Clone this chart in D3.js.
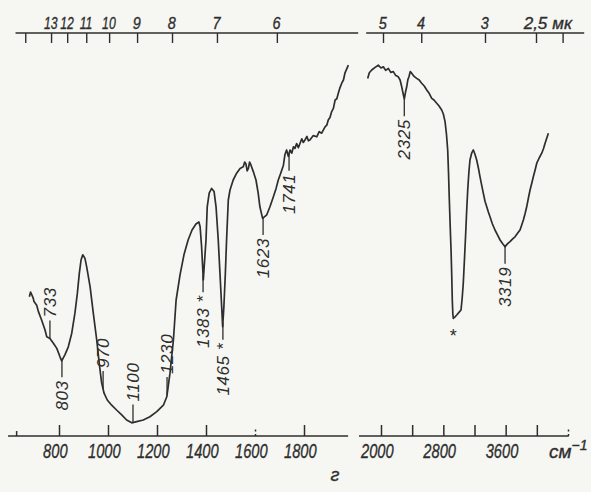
<!DOCTYPE html>
<html>
<head>
<meta charset="utf-8">
<script src="https://cdn.jsdelivr.net/npm/d3@7"></script>
<style>
  html, body { margin: 0; padding: 0; background: #f6f6f2; }
  svg { display: block; }
  .lab { font-family: "Liberation Sans", "DejaVu Sans", sans-serif; font-style: italic; fill: #2e2e2e; stroke: #2e2e2e; stroke-width: 0.35px; }
  .peak { font-family: "Liberation Sans", "DejaVu Sans", sans-serif; font-style: italic; fill: #2e2e2e; }
</style>
</head>
<body>
<div id="chart"></div>
<script>
// IR spectrum, panel "г": transmittance (arbitrary %) vs wavenumber (cm-1)
const leftSpectrum = [
  [679,33.3],[684,34.5],[689,33.8],[695,32.9],[698,32.1],[709,31.2],[716,29.6],[729,27.5],[743,25],[750,23.3],
  [763,22.9],[777,21.7],[791,20.4],[804,18.3],[811,17.3],[824,18.8],[838,20.8],[852,24.2],[865,29.2],[875,34.2],
  [883,39.2],[890,42.5],[897,43.8],[906,42.9],[913,40.8],[927,35.8],[940,29.2],[954,22.5],[964,16.8],[974,11.8],
  [984,9.2],[997,7.5],[1015,6.2],[1035,5],[1056,3.8],[1076,2.5],[1097,1.8],[1117,2.1],[1144,2.5],[1171,3.3],
  [1199,4.6],[1226,6.2],[1240,8.3],[1253,14.2],[1267,22.5],[1278,32.5],[1294,38.8],[1310,43.8],[1327,47.5],[1343,50],
  [1359,51.5],[1371,52],[1376,50.8],[1382,45.8],[1389,37.5],[1400,47.5],[1405,55.8],[1413,59.2],[1423,60.4],[1433,59.6],
  [1441,55.8],[1450,47.5],[1457,39.2],[1464,30.8],[1468,25.8],[1473,30.8],[1479,39.2],[1484,47.5],[1491,57.5],[1498,60],
  [1511,62.5],[1525,64.2],[1539,65.4],[1552,65.8],[1558,67],[1563,66.5],[1568,64.8],[1573,65.4],[1578,67],[1582,66.5],
  [1593,64.6],[1604,62.5],[1613,59.2],[1620,55.8],[1631,52.9],[1648,53.8],[1661,55.8],[1675,58.3],[1686,60.4],[1695,62.5],
  [1705,64.2],[1716,66.2],[1722,68.8],[1729,70],[1736,68.4],[1743,70],[1750,69.2],[1757,70.8],[1763,70.4],[1770,71.6],
  [1777,70.6],[1784,71.7],[1791,72.8],[1797,71.9],[1804,72.5],[1812,73.4],[1818,72.3],[1824,72.5],[1838,73.6],[1852,73.3],
  [1862,74.6],[1872,74.2],[1886,75.8],[1893,76.2],[1899,77.5],[1906,78.1],[1913,79.6],[1920,80.4],[1927,82.5],[1934,82.8],
  [1940,84.2],[1947,85.6],[1954,86.7],[1961,87.5],[1967,89.2],[1981,91.2]
];

const rightSpectrum = [
  [1829,87.9],[1850,89.3],[1881,90],[1920,90.6],[1965,91.2],[2000,90.5],[2030,90.8],[2060,89.9],[2094,90.4],[2125,89.4],
  [2158,89.6],[2190,88.6],[2222,88.3],[2245,87.5],[2266,85.8],[2285,84],[2299,82.7],[2315,84.5],[2330,85.8],[2345,87.6],
  [2359,88.3],[2375,89.6],[2394,89.2],[2425,88.4],[2458,87.9],[2490,87.5],[2522,86.7],[2555,86],[2587,85],[2620,84.1],
  [2651,82.9],[2680,82.5],[2715,81.7],[2745,81],[2779,80],[2800,79],[2822,77.1],[2840,74],[2856,70],[2867,64],
  [2877,57.5],[2888,51],[2899,45],[2908,38.5],[2915,32.5],[2922,29],[2928,27.9],[2950,28.3],[2972,28.75],[3000,29.4],
  [3027,30],[3042,33],[3056,36.7],[3072,43],[3087,49.2],[3100,55],[3113,60],[3128,64.5],[3142,67.5],[3165,69.3],
  [3185,70],[3205,69],[3228,67.5],[3250,65.5],[3271,63.3],[3292,61.2],[3313,59.2],[3335,57.2],[3357,55.8],[3378,54.5],
  [3399,53.3],[3430,51.5],[3463,50],[3495,48.8],[3528,47.5],[3560,46.6],[3592,45.8],[3625,46.6],[3656,47.1],[3690,47.8],
  [3720,48.3],[3750,49.1],[3784,50],[3805,51.2],[3827,52.5],[3848,54],[3870,55.8],[3892,58],[3913,60],[3935,61.7],
  [3955,63.3],[3978,65],[3999,66.7],[4030,68],[4063,69.2],[4085,70.3],[4106,71.7],[4128,73],[4148,74.2]
];

// peak annotations: printed value, where it is drawn, which side of the curve
const leftPeaks = [
  { text: "733", at: 763, dir: "up" },
  { text: "803", at: 812, dir: "down" },
  { text: "970", at: 980, dir: "up" },
  { text: "1100", at: 1102, dir: "up" },
  { text: "1230", at: 1241, dir: "up" },
  { text: "1383 *", at: 1388, dir: "down" },
  { text: "1465 *", at: 1469, dir: "down" },
  { text: "1623", at: 1633, dir: "down" },
  { text: "1741", at: 1739, dir: "down" }
];
const rightPeaks = [
  { text: "2325", at: 2299, dir: "down" },
  { text: "*", at: 2928, dir: "star" },
  { text: "3319", at: 3592, dir: "down" }
];

// wavenumber axes (bottom)
const leftTicks = [625, 800, 1000, 1200, 1400, 1600, 1800];
const leftTickLabels = ["", "800", "1000", "1200", "1400", "1600", "1800"];
const rightTicks = [2000, 2400, 2800, 3200, 3600, 4000, 4400];
const rightTickLabels = ["2000", "", "2800", "", "3600", "", ""];
const dottedTicks = [1600, 4400];
const leftExtent = [592, 1980];
const rightExtent = [1718, 4410];

// wavelength axes (top), micrometres
const topLeftUm = [15, 13, 12, 11, 10, 9, 8, 7, 6];
const topLeftLabels = ["", "13", "12", "11", "10", "9", "8", "7", "6"];
const topRightUm = [5, 4, 3, 2.5, 2.3];
const topRightLabels = ["5", "4", "3", "2,5", "мк"];
const topLeftExtent = [628, 1990];
const topRightExtent = [1780, 4630];

const width = 591, height = 492;
const ink = "#2e2e2e";

const svg = d3.select("#chart").append("svg")
  .attr("width", width)
  .attr("height", height);

const xL = d3.scaleLinear().domain([800, 1800]).range([59, 304]);
const xR = d3.scaleLinear().domain([2000, 4400]).range([381, 568]);
const xTopL = d3.scaleLinear().domain([800, 1800]).range([58.8, 310.4]);
const xTopR = d3.scaleLinear().domain([2000, 4000]).range([383, 536]);
const y = d3.scaleLinear().domain([0, 100]).range([430, 30]);

const axisY = 436, topY = 33;

function bottomAxis(scale, ticks, labels, extent) {
  const g = svg.append("g").attr("transform", `translate(0,${axisY})`);
  g.append("line")
    .attr("x1", scale(extent[0])).attr("x2", scale(extent[1]))
    .attr("stroke", ink).attr("stroke-width", 1.6);
  g.call(d3.axisBottom(scale)
      .tickValues(ticks)
      .tickSizeInner(-11)
      .tickSizeOuter(0)
      .tickPadding(7)
      .tickFormat((d, i) => labels[i]));
  g.select(".domain").remove();
  g.selectAll(".tick line").attr("stroke", ink).attr("stroke-width", 1.5)
    .attr("stroke-dasharray", d => dottedTicks.includes(d) ? "2,2.5" : null)
    .attr("y2", (d, i) => i === 0 && labels[0] === "" ? -5 : dottedTicks.includes(d) ? -9 : -11);
  // condensed italic numerals, as in the printed figure
  g.selectAll(".tick text")
    .attr("class", "lab")
    .attr("x", -6)
    .attr("transform", "scale(0.7,1)")
    .style("font-size", "21px");
}

bottomAxis(xL, leftTicks, leftTickLabels, leftExtent);
bottomAxis(xR, rightTicks, rightTickLabels, rightExtent);

function topAxis(scale, ums, labels, extent) {
  const g = svg.append("g").attr("transform", `translate(0,${topY})`);
  g.append("line")
    .attr("x1", scale(extent[0])).attr("x2", scale(extent[1]))
    .attr("stroke", ink).attr("stroke-width", 1.6);
  g.call(d3.axisTop(scale)
      .tickValues(ums.map(m => 1e4 / m))
      .tickSizeInner(-10)
      .tickSizeOuter(0)
      .tickPadding(4)
      .tickFormat((d, i) => labels[i]));
  g.select(".domain").remove();
  g.selectAll(".tick line").attr("stroke", ink).attr("stroke-width", 1.4);
  g.selectAll(".tick text")
    .attr("class", "lab")
    .attr("x", -1)
    .attr("transform", (d, i) => /^\d\d$/.test(labels[i]) ? "scale(0.72,1)" : /^\d$/.test(labels[i]) ? "scale(0.85,1)" : null)
    .style("font-size", "17px");
}

topAxis(xTopL, topLeftUm, topLeftLabels, topLeftExtent);
topAxis(xTopR, topRightUm, topRightLabels, topRightExtent);

// spectrum traces
function trace(data, scale) {
  svg.append("path")
    .datum(data)
    .attr("fill", "none")
    .attr("stroke", ink)
    .attr("stroke-width", 1.7)
    .attr("stroke-linejoin", "round")
    .attr("d", d3.line().x(d => scale(d[0])).y(d => y(d[1])));
}
trace(leftSpectrum, xL);
trace(rightSpectrum, xR);

// value of the trace at a wavenumber, by linear interpolation
function valueAt(data, wn) {
  const i = d3.bisector(d => d[0]).left(data, wn);
  if (i <= 0) return data[0][1];
  if (i >= data.length) return data[data.length - 1][1];
  const a = data[i - 1], b = data[i];
  return a[1] + (b[1] - a[1]) * (wn - a[0]) / (b[0] - a[0]);
}

function annotate(peaks, data, scale) {
  const g = svg.append("g");
  peaks.forEach(p => {
    const px = scale(p.at);
    const py = y(valueAt(data, p.at));
    if (p.dir === "star") {
      g.append("text").attr("class", "peak")
        .attr("x", px).attr("y", py + 24)
        .attr("text-anchor", "middle")
        .style("font-size", "18px").style("font-style", "normal")
        .text(p.text);
      return;
    }
    const up = p.dir === "up";
    const len = up ? 18 : 17;
    const end = up ? py - len : py + len;
    g.append("line")
      .attr("x1", px).attr("x2", px)
      .attr("y1", py).attr("y2", end)
      .attr("stroke", ink).attr("stroke-width", 1.3);
    g.append("text").attr("class", "peak")
      .attr("transform", `translate(${px},${up ? end - 3 : end + 3}) rotate(-90)`)
      .attr("text-anchor", up ? "start" : "end")
      .attr("dy", "0.35em")
      .style("font-size", "17px")
      .style("letter-spacing", "0.6px")
      .text(p.text);
  });
}
annotate(leftPeaks, leftSpectrum, xL);
annotate(rightPeaks, rightSpectrum, xR);

// units and panel letter
svg.append("text").attr("class", "lab")
  .attr("x", xR(4400) - 19).attr("y", axisY + 22)
  .style("font-size", "19px")
  .text("см")
  .append("tspan")
  .attr("dy", -8)
  .style("font-size", "14px")
  .text("−1");

svg.append("text").attr("class", "lab")
  .attr("x", 335).attr("y", 481)
  .attr("text-anchor", "middle")
  .style("font-size", "18px")
  .text("г");
</script>
</body>
</html>
